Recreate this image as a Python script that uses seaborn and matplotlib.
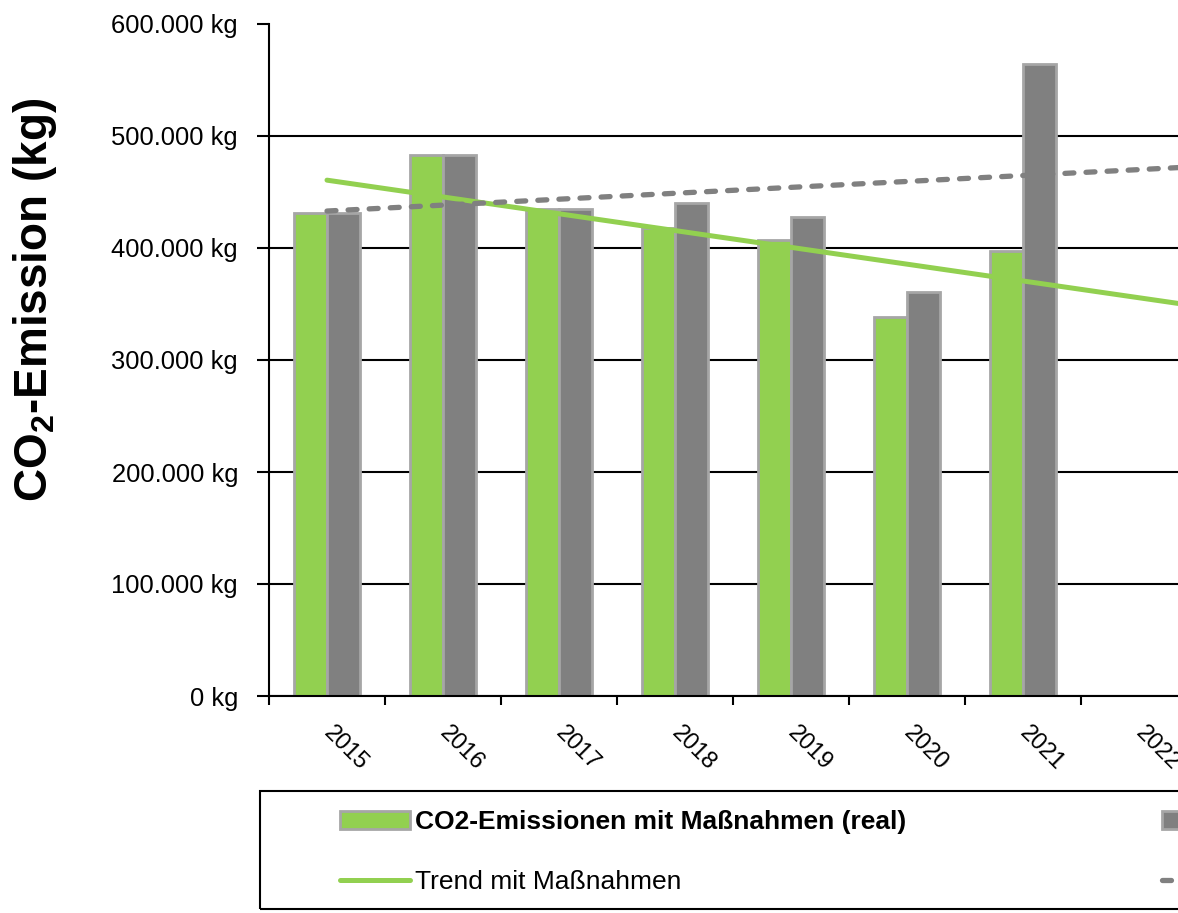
import numpy as np
import pandas as pd
import matplotlib
matplotlib.use("Agg")
import matplotlib.pyplot as plt
from matplotlib import font_manager
from matplotlib.patches import Patch, Rectangle
from matplotlib.lines import Line2D
import seaborn as sns

# values (kg)
years = ["2015", "2016", "2017", "2018", "2019", "2020", "2021"]
axis_years = years + ["2022"]
co2_real = [431000, 483000, 435000, 418000, 407000, 338000, 397000]
co2_ohne = [431000, 483000, 435000, 440000, 428000, 361000, 564000]
series_names = ["CO2-Emissionen mit Maßnahmen (real)", "CO2-Emissionen ohne Maßnahmen"]
trend_names = ["Trend mit Maßnahmen", "Trend ohne Maßnahmen"]
y_ticks = [0, 100000, 200000, 300000, 400000, 500000, 600000]

GREEN = "#92d050"
GREY = "#808080"
EDGE = "#a6a6a6"

sns.set_style("white")
plt.rcParams["font.family"] = ["Liberation Sans", "DejaVu Sans"]
plt.rcParams["mathtext.fontset"] = "custom"
plt.rcParams["mathtext.rm"] = "Liberation Sans"
plt.rcParams["mathtext.bf"] = "Liberation Sans:bold"
for key in ["text.color", "axes.labelcolor", "xtick.color", "ytick.color"]:
    plt.rcParams[key] = "black"

legend_family = ["Liberation Sans", "DejaVu Sans"]
legend_size = 19

df = pd.DataFrame({
    "Jahr": years * 2,
    "Serie": [series_names[0]] * len(years) + [series_names[1]] * len(years),
    "CO2": co2_real + co2_ohne,
})

W, H = 1178, 913
fig = plt.figure(figsize=(W / 100, H / 100), dpi=100)
ax = fig.add_axes([269 / W, 1 - 696 / H, 928 / W, 672 / H])

sns.barplot(data=df, x="Jahr", y="CO2", hue="Serie", order=years, hue_order=series_names,
            palette=[GREEN, GREY], saturation=1, width=0.57, gap=0,
            edgecolor=EDGE, linewidth=2, legend=False, ax=ax)

# linear trends over each series, drawn on to the cut-off right side
xs = np.arange(len(years))
x_ext = np.array([0, len(axis_years)])
slope, icpt = np.polyfit(xs, co2_real, 1)
sns.lineplot(x=x_ext, y=slope * x_ext + icpt, color=GREEN, lw=3.6, ax=ax)
slope, icpt = np.polyfit(xs, co2_ohne, 1)
sns.lineplot(x=x_ext, y=slope * x_ext + icpt, color=GREY, lw=3.8,
             linestyle=(0, (1.7, 2.3)), dash_capstyle="round", ax=ax)

ax.set_xlim(-0.5, len(axis_years) - 0.5)
ax.set_ylim(0, 600000)
ax.set_xlabel("")
ax.set_ylabel("")

ax.set_xticks(np.arange(-0.5, len(axis_years), 1))
ax.set_xticklabels([])
ax.set_xticks(np.arange(len(axis_years)), labels=axis_years, minor=True)
ax.tick_params(axis="x", which="major", direction="out", length=6.5, width=1.5, bottom=True)
ax.tick_params(axis="x", which="minor", length=0, pad=24, labelsize=17)
plt.setp(ax.get_xticklabels(minor=True), rotation=-45, ha="left", va="center",
         rotation_mode="anchor")

ax.set_yticks(y_ticks, labels=[f"{v:,.0f}".replace(",", ".") + " kg" for v in y_ticks])
ax.tick_params(axis="y", direction="out", length=8.6, width=1.5, labelsize=18.4, pad=13.7, left=True)

ax.set_axisbelow(True)
ax.yaxis.grid(True, color="black", lw=1.5)
ax.xaxis.grid(False)
ax.yaxis.get_major_ticks()[-1].gridline.set_visible(False)

for side in ["top", "right"]:
    ax.spines[side].set_visible(False)
for side in ["left", "bottom"]:
    ax.spines[side].set_color("black")
    ax.spines[side].set_linewidth(1.5)

fig.text(35 / W, 1 - 300 / H, r"CO$_\mathbf{2}$-Emission (kg)", rotation=90,
         fontsize=33, fontweight="bold", ha="center", va="center")

# legend box, cut off at the right edge like the original
fig.add_artist(Rectangle((260 / W, 1 - 909 / H), 1.0, 118 / H, transform=fig.transFigure,
                         fill=False, edgecolor="black", lw=1.5))

fs_px = legend_size / 72 * 100
handles = [
    Patch(facecolor=GREEN, edgecolor=EDGE, lw=2),
    Line2D([], [], color=GREEN, lw=3.6),
    Patch(facecolor=GREY, edgecolor=EDGE, lw=2),
    Line2D([], [], color=GREY, lw=3.8, linestyle=(0, (1.7, 2.3)), dash_capstyle="round"),
]
labels = [series_names[0], trend_names[0], series_names[1], trend_names[1]]
leg = fig.legend(handles, labels, loc="upper left", bbox_to_anchor=(340 / W, 1 - 810 / H),
                 ncol=2, frameon=False, borderpad=0, borderaxespad=0,
                 handlelength=70 / fs_px, handleheight=18 / fs_px, handletextpad=5 / fs_px,
                 labelspacing=36 / fs_px, columnspacing=256 / fs_px,
                 prop=font_manager.FontProperties(family=legend_family, size=legend_size))
leg.get_texts()[0].set_fontweight("bold")

fig.savefig("out.png", dpi=100)
